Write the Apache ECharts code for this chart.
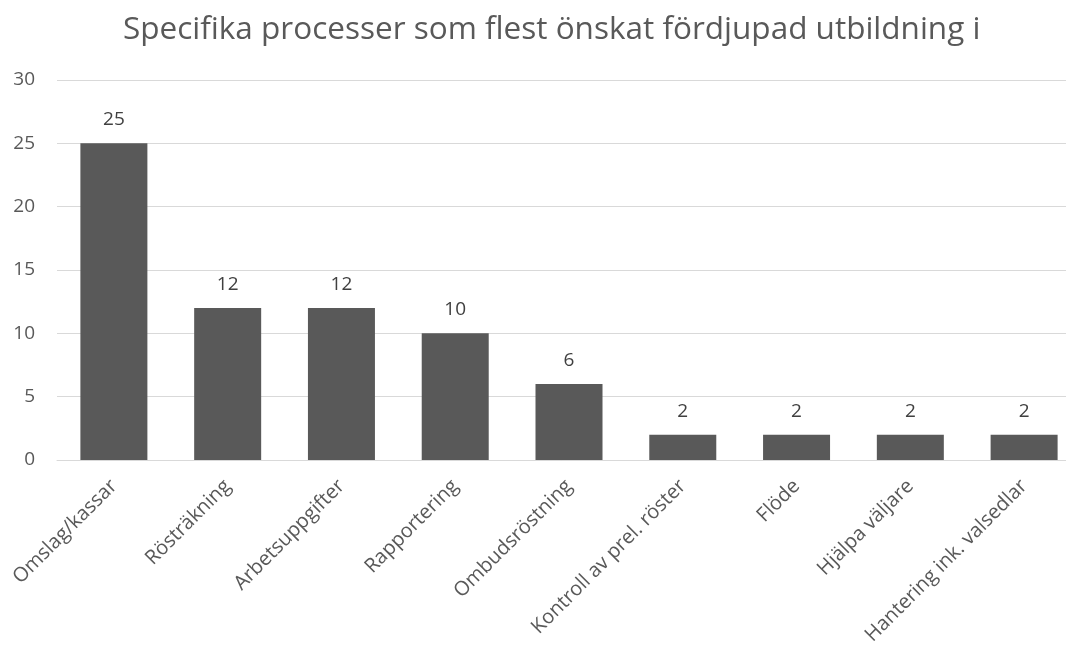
<!DOCTYPE html>
<html>
<head>
<meta charset="utf-8">
<script src="https://cdn.jsdelivr.net/npm/echarts@6/dist/echarts.min.js"></script>
<style>html,body{margin:0;padding:0;background:#fff}#c{width:1066px;height:647px}</style>
</head>
<body>
<div id="c"></div>
<script>
const categories = ["Omslag/kassar","Rösträkning","Arbetsuppgifter","Rapportering","Ombudsröstning","Kontroll av prel. röster","Flöde","Hjälpa väljare","Hantering ink. valsedlar"];
const values = [25,12,12,10,6,2,2,2,2];
const titleText = "Specifika processer som flest önskat fördjupad utbildning i";

const chart = echarts.init(document.getElementById('c'));
const font = '"Open Sans", "Noto Sans", sans-serif';
chart.setOption({
  backgroundColor: '#fff',
  animation: false,
  textStyle: { fontFamily: font },
  title: {
    text: titleText, left: 118, top: 9,
    textStyle: { fontFamily: font, fontSize: 31.5, fontWeight: 'normal', color: '#595959' }
  },
  grid: { left: 57, top: 80, bottom: 187, width: 1024, containLabel: false, outerBoundsMode: 'none' },
  xAxis: {
    type: 'category', data: categories,
    axisLine: { lineStyle: { color: '#d9d9d9', width: 1 } },
    axisTick: { show: false },
    axisLabel: { rotate: 45, interval: 0, margin: 23, color: '#595959', fontSize: 20, fontFamily: font }
  },
  yAxis: {
    type: 'value', min: 0, max: 30, interval: 5,
    axisLine: { show: false }, axisTick: { show: false },
    splitLine: { lineStyle: { color: '#d9d9d9', width: 1 } },
    axisLabel: { color: '#595959', fontSize: 19, margin: 22, fontFamily: font }
  },
  series: [{
    type: 'bar', data: values, barWidth: 67,
    itemStyle: { color: '#595959' },
    label: { show: true, position: 'top', distance: 14, color: '#404040', fontSize: 19, fontFamily: font }
  }]
});
</script>
</body>
</html>
